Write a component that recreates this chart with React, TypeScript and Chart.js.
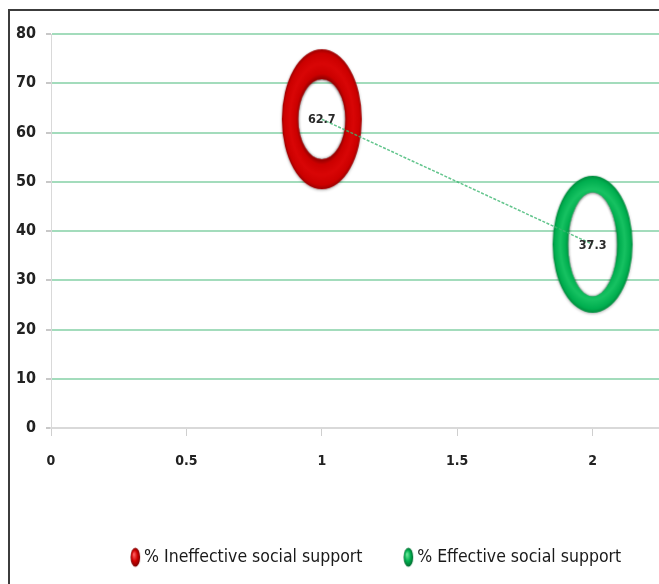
import { useEffect, useRef } from "react";
import { Chart, registerables } from "chart.js";

Chart.register(...registerables);

// ---- data ----
const seriesNames = ["% Ineffective social support", "% Effective social support"];
const xValues = [1, 2];
const yValues = [62.7, 37.3];
const xTicks = [0, 0.5, 1, 1.5, 2];
const yTicks = [0, 10, 20, 30, 40, 50, 60, 70, 80];

// ---- styles ----
const FONT = "'Liberation Sans Narrow', 'DejaVu Sans Condensed', 'Arial Narrow', sans-serif";
const ringStyles = [
  { rxo: 40, ryo: 70, rxi: 23.5, ryi: 40, dark: "#9c0000", mid: "#cc0000", light: "#d90606" },
  { rxo: 40, ryo: 68.5, rxi: 24.5, ryi: 52, dark: "#008c3e", mid: "#00ae4f", light: "#17c262" },
];
const dotStyles = [
  { hi: "#ff6060", mid: "#d00000", dark: "#7a0000" },
  { hi: "#6ee89a", mid: "#00b050", dark: "#006a2e" },
];
const LEGEND_BOX = 14.5;
const LEGEND_PAD = 31.5;

function makeRing(s: any): HTMLCanvasElement {
  const pad = 8;
  const c = document.createElement("canvas");
  c.width = Math.ceil(s.rxo * 2 + pad * 2);
  c.height = Math.ceil(s.ryo * 2 + pad * 2);
  const ctx = c.getContext("2d")!;
  const cx = c.width / 2;
  const cy = c.height / 2;
  const k = s.ryo / s.rxo;
  ctx.save();
  ctx.translate(cx, cy);
  ctx.scale(1, k);
  ctx.shadowColor = "rgba(0,0,0,0.3)";
  ctx.shadowBlur = 3;
  ctx.shadowOffsetY = 1;
  const g = ctx.createRadialGradient(0, 0, s.rxi, 0, 0, s.rxo);
  g.addColorStop(0, s.dark);
  g.addColorStop(0.15, s.mid);
  g.addColorStop(0.5, s.light);
  g.addColorStop(0.85, s.mid);
  g.addColorStop(1, s.dark);
  ctx.fillStyle = g;
  ctx.beginPath();
  ctx.arc(0, 0, s.rxo, 0, Math.PI * 2);
  ctx.ellipse(0, 0, s.rxi, s.ryi / k, 0, 0, Math.PI * 2, true);
  ctx.fill();
  ctx.restore();
  // inner shadow
  ctx.save();
  ctx.beginPath();
  ctx.ellipse(cx, cy, s.rxi, s.ryi, 0, 0, Math.PI * 2);
  ctx.clip();
  ctx.shadowColor = "rgba(0,0,0,0.45)";
  ctx.shadowBlur = 3;
  ctx.lineWidth = 6;
  ctx.strokeStyle = s.dark;
  ctx.beginPath();
  ctx.ellipse(cx, cy, s.rxi + 3, s.ryi + 3, 0, 0, Math.PI * 2);
  ctx.stroke();
  ctx.restore();
  return c;
}

function makeDot(s: any): HTMLCanvasElement {
  const c = document.createElement("canvas");
  const half = LEGEND_BOX / 2;
  c.width = 2 * (half + 7);
  c.height = 24;
  const ctx = c.getContext("2d")!;
  const cx = c.width / 2 + half;
  const cy = c.height / 2;
  const rx = 4.8;
  const ry = 9.5;
  ctx.save();
  ctx.translate(cx, cy);
  ctx.scale(1, ry / rx);
  const g = ctx.createRadialGradient(-1.5, -1.5, 0.3, 0, 0, rx);
  g.addColorStop(0, s.hi);
  g.addColorStop(0.55, s.mid);
  g.addColorStop(1, s.dark);
  ctx.fillStyle = g;
  ctx.beginPath();
  ctx.arc(0, 0, rx, 0, Math.PI * 2);
  ctx.fill();
  ctx.restore();
  return c;
}

const valueLabels = {
  id: "valueLabels",
  afterDatasetsDraw(chart: any) {
    const ctx = chart.ctx;
    ctx.save();
    ctx.font = `bold 12.5px ${FONT}`;
    ctx.fillStyle = "#2a2a2a";
    ctx.textAlign = "center";
    ctx.textBaseline = "middle";
    [0, 1].forEach((i) => {
      const meta = chart.getDatasetMeta(i);
      const ds = chart.data.datasets[i];
      meta.data.forEach((el: any, j: number) => {
        ctx.fillText(ds.data[j].y.toFixed(1), el.x, el.y + 1);
      });
    });
    ctx.restore();
  },
};

export default function App() {
  const ref = useRef<HTMLCanvasElement>(null);

  useEffect(() => {
    if (!ref.current) return;
    const rings = ringStyles.map(makeRing);
    const dots = dotStyles.map(makeDot);
    const chart = new Chart(ref.current, {
      type: "line",
      data: {
        datasets: [
          {
            label: seriesNames[0],
            data: [{ x: xValues[0], y: yValues[0] }],
            showLine: false,
            pointStyle: rings[0] as any,
            pointRadius: 1,
            pointBorderWidth: 0,
            order: 2,
          },
          {
            label: seriesNames[1],
            data: [{ x: xValues[1], y: yValues[1] }],
            showLine: false,
            pointStyle: rings[1] as any,
            pointRadius: 1,
            pointBorderWidth: 0,
            order: 2,
          },
          {
            label: "connector",
            data: xValues.map((x, i) => ({ x, y: yValues[i] })),
            borderColor: "rgba(60,182,112,0.8)",
            borderWidth: 1.5,
            borderDash: [3, 1.5],
            pointRadius: 0,
            fill: false,
            order: 0,
          },
        ],
      },
      options: {
        responsive: false,
        animation: false,
        layout: { padding: { top: 23, left: 0, right: 0, bottom: 8 } },
        plugins: {
          tooltip: { enabled: false },
          legend: {
            position: "bottom",
            align: "center",
            labels: {
              usePointStyle: true,
              pointStyleWidth: LEGEND_BOX,
              padding: LEGEND_PAD,
              color: "#1a1a1a",
              font: { family: FONT, size: 17.5 },
              generateLabels: (ch: any) =>
                [0, 1].map((i) => ({
                  text: ch.data.datasets[i].label,
                  pointStyle: dots[i],
                  fillStyle: "transparent",
                  strokeStyle: "transparent",
                  lineWidth: 0,
                  hidden: false,
                  datasetIndex: i,
                  fontColor: "#1a1a1a",
                })),
            },
          },
        },
        scales: {
          x: {
            type: "linear",
            min: 0,
            max: 2.5,
            afterBuildTicks: (scale: any) => {
              scale.ticks = xTicks.map((v) => ({ value: v }));
            },
            afterFit: (scale: any) => {
              scale.height = 89;
            },
            grid: {
              display: true,
              drawOnChartArea: false,
              drawTicks: true,
              tickLength: 8,
              color: "#d0d0d0",
              tickColor: "#cfcfcf",
            },
            border: { display: true, color: "#d9d9d9", width: 2 },
            ticks: {
              padding: 17,
              color: "#222",
              font: { family: FONT, size: 14, weight: "bold" },
              callback: (v: any) => String(v),
            },
          },
          y: {
            min: 0,
            max: 80,
            afterBuildTicks: (scale: any) => {
              scale.ticks = yTicks.map((v) => ({ value: v }));
            },
            afterFit: (scale: any) => {
              scale.width = 41;
            },
            grid: {
              color: (c: any) => (c.tick && c.tick.value === 0 ? "#d9d9d9" : "#a3dcbc"),
              lineWidth: 2,
              tickLength: 5,
              tickColor: "#c8c8c8",
            },
            border: { display: true, color: "#d9d9d9", width: 1 },
            ticks: {
              padding: 10,
              color: "#222",
              font: { family: FONT, size: 16, weight: "bold" },
            },
          },
        },
      },
      plugins: [valueLabels],
    } as any);
    return () => chart.destroy();
  }, []);

  return (
    <div
      style={{
        position: "fixed",
        left: 8,
        top: 9,
        width: 651,
        height: 575,
        boxSizing: "border-box",
        borderTop: "2px solid #3c3c3c",
        borderLeft: "2px solid #3c3c3c",
        overflow: "hidden",
        background: "#fff",
      }}
    >
      <canvas ref={ref} width={722} height={573} style={{ display: "block" }} />
    </div>
  );
}
